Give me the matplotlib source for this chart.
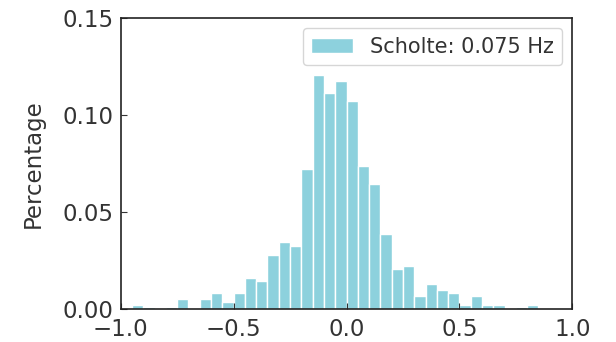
import matplotlib
matplotlib.use("Agg")
import matplotlib.pyplot as plt
import numpy as np

# bin edges of the histogram (width 0.05 from -1 to 1)
bin_edges = np.round(np.arange(-1.0, 1.0001, 0.05), 3)

# fraction of samples in each bin
bin_heights = [
    0.0, 0.0024, 0.0011, 0.0, 0.0011, 0.0053, 0.0, 0.0053, 0.0084, 0.0037,
    0.0084, 0.0162, 0.0144, 0.0280, 0.0344, 0.0327, 0.0723, 0.1206, 0.1112, 0.1175,
    0.1070, 0.0735, 0.0645, 0.0386, 0.0208, 0.0221, 0.0067, 0.0131, 0.0097, 0.0083,
    0.0024, 0.0068, 0.0024, 0.0024, 0.0, 0.0011, 0.0024, 0.0, 0.0, 0.0,
]
series_label = "Scholte: 0.075 Hz"

fig = plt.figure(figsize=(6.16, 3.42), dpi=100)
ax = fig.add_axes([0.196, 0.096, 0.733, 0.852])

ax.hist(bin_edges[:-1], bins=bin_edges, weights=bin_heights,
        color="#8dd1dd", edgecolor="white", linewidth=1.0, label=series_label)

ax.set_xlim(-1.0, 1.0)
ax.set_ylim(0.0, 0.15)
ax.set_xticks([-1.0, -0.5, 0.0, 0.5, 1.0])
ax.set_yticks([0.0, 0.05, 0.10, 0.15])
ax.tick_params(direction="in", labelsize=16.5, colors="#333333", length=4)
ax.tick_params(axis="x", pad=6)
ax.tick_params(axis="y", pad=5)
for spine in ax.spines.values():
    spine.set_color("#222222")
    spine.set_linewidth(1.2)

ax.set_ylabel("Percentage", fontsize=16.5, color="#333333", labelpad=13)

leg = ax.legend(loc="upper right", fontsize=15, frameon=True,
                handlelength=2.0, borderpad=0.4)
for t in leg.get_texts():
    t.set_color("#333333")

fig.savefig("out.png", dpi=100)
